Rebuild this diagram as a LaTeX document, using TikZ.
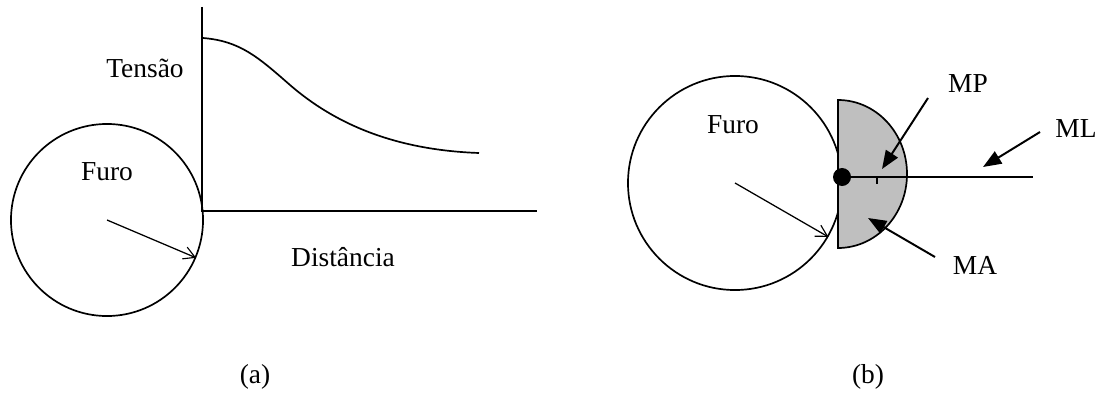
\documentclass[tikz,border=0pt]{standalone}
\usepackage{fontspec}
\setmainfont{Liberation Serif}
\usetikzlibrary{arrows.meta,positioning}
\tikzset{>/.tip={Straight Barb[length=8pt,width=9pt,line width=0.8pt]}}
\tikzset{hole/.style={circle,draw,inner sep=0pt}}
\tikzset{pointer/.style={line width=1.4pt,-{Triangle[length=13pt,width=10pt]}}}

\begin{document}
\begin{tikzpicture}[x=0.025cm,y=-0.025cm,font=\fontsize{19.5}{23}\selectfont,line width=1.2pt]
        \useasboundingbox (0,0) rectangle (1102,394);
        % (a) tension along the distance
        \node[hole,minimum size=4.8cm](holeA) at (107,220){};
        \node(furoA) at (107,172){Furo};
        \draw[->,line width=0.9pt] (holeA.center) -- (holeA.-23);
        \coordinate(yTop) at (202,7);
        \coordinate(orig) at (202,211);
        \coordinate(xEnd) at (537,211);
        \draw[line width=1.4pt] (yTop) -- (orig) -- (xEnd);
        \node(tensao) at (145,68){Tensão};
        \node(dist) at (343,257){Distância};
        \coordinate(cStart) at (203,38);
        \coordinate(cMid) at (290,85);
        \coordinate(cEnd) at (479,153);
        \draw (cStart) .. controls (240,41) and (258,57) .. (cMid)
          .. controls (335,124) and (395,150) .. (cEnd);
        \node(capA) at (255,377){(a)};
        % (b) zones next to the hole
        \node[hole,minimum size=5.35cm](holeB) at (735,183){};
        \node(furoB) at (733,125){Furo};
        \draw[->,line width=0.9pt] (holeB.center) -- (holeB.-30);
        \filldraw[fill=black!25] (838,100) arc[start angle=-90,end angle=90,x radius=69,y radius=74] -- cycle;
        \node[circle,fill,inner sep=0pt,minimum size=0.45cm](dot) at (842,177){};
        \coordinate(lEnd) at (1033,177);
        \draw[line width=1.4pt] (dot.center) -- (lEnd);
        \coordinate(tickA) at (877,177);
        \coordinate(tickB) at (877,184);
        \draw[line width=1pt] (tickA) -- (tickB);
        \node(mp) at (968,84){MP};
        \node(ml) at (1076,129){ML};
        \node(ma) at (975,265){MA};
        \coordinate(mpTail) at (928,98);
        \coordinate(mpHead) at (882,169);
        \coordinate(mlTail) at (1040,132);
        \coordinate(mlHead) at (983,167);
        \coordinate(maTail) at (935,257);
        \coordinate(maHead) at (868,218);
        \draw[pointer] (mpTail) -- (mpHead);
        \draw[pointer] (mlTail) -- (mlHead);
        \draw[pointer] (maTail) -- (maHead);
        \node(capB) at (868,377){(b)};
\end{tikzpicture}
\end{document}
